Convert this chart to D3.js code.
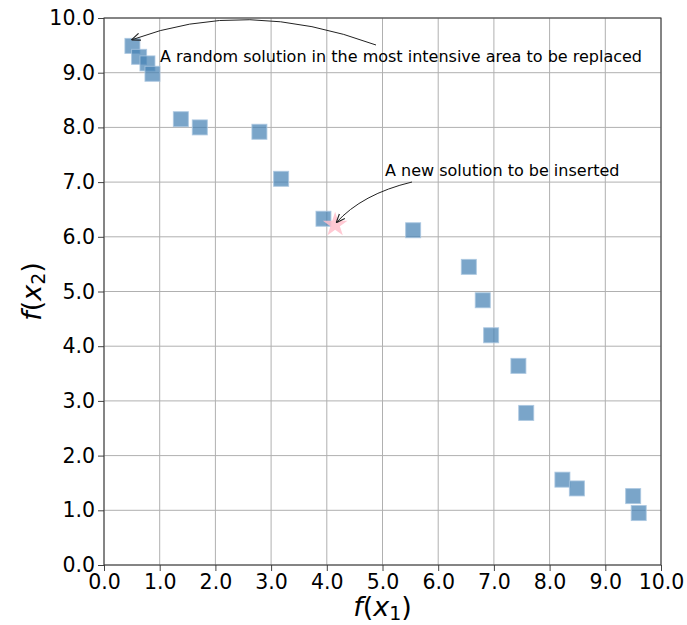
<!DOCTYPE html>
<html><head><meta charset="utf-8">
<script src="https://cdn.jsdelivr.net/npm/d3@7"></script>
<style>body{margin:0;background:#fff}svg{display:block;font-family:"DejaVu Sans",sans-serif}</style>
</head><body>
<svg id="c" width="687" height="625"></svg>
<script>
const xVals = [0.51,0.63,0.78,0.87,1.38,1.72,2.79,3.18,3.94,5.55,6.55,6.80,6.95,7.44,7.58,8.23,8.49,9.50,9.60];
const yVals = [9.49,9.29,9.17,8.98,8.15,8.00,7.92,7.06,6.33,6.12,5.45,4.84,4.20,3.64,2.78,1.56,1.40,1.26,0.95];
const newPoint = [4.15, 6.22];
const tickValues = [0,1,2,3,4,5,6,7,8,9,10];

const svg = d3.select("#c");
const m = {l:104, r:661, t:18, b:565};
const x = d3.scaleLinear().domain([0,10]).range([m.l, m.r]);
const y = d3.scaleLinear().domain([0,10]).range([m.b, m.t]);

// grid
svg.append("g").selectAll("line").data(tickValues).join("line")
  .attr("x1", d=>x(d)).attr("x2", d=>x(d)).attr("y1", m.t).attr("y2", m.b)
  .attr("stroke","#b0b0b0").attr("stroke-width",1);
svg.append("g").selectAll("line").data(tickValues).join("line")
  .attr("y1", d=>y(d)).attr("y2", d=>y(d)).attr("x1", m.l).attr("x2", m.r)
  .attr("stroke","#b0b0b0").attr("stroke-width",1);

// axes
const xa = svg.append("g").attr("transform",`translate(0,${m.b})`)
  .call(d3.axisBottom(x).tickValues(tickValues).tickFormat(d3.format(".1f")).tickSize(6).tickPadding(3));
const ya = svg.append("g").attr("transform",`translate(${m.l},0)`)
  .call(d3.axisLeft(y).tickValues(tickValues).tickFormat(d3.format(".1f")).tickSize(6).tickPadding(3));
[xa,ya].forEach(a=>{
  a.select(".domain").remove();
  a.selectAll("text").attr("font-size",20.5).attr("fill","#000").attr("font-family","DejaVu Sans");
  a.selectAll("line").attr("stroke","#444");
});

// frame
svg.append("rect").attr("x",m.l).attr("y",m.t).attr("width",m.r-m.l).attr("height",m.b-m.t)
  .attr("fill","none").attr("stroke","#333").attr("stroke-width",1);

// points
const s = 15;
svg.append("g").selectAll("rect").data(xVals.map((v,i)=>[v,yVals[i]])).join("rect")
  .attr("x", d=>x(d[0])-s/2).attr("y", d=>y(d[1])-s/2).attr("width",s).attr("height",s)
  .attr("fill","#4682b4").attr("fill-opacity",0.72)
  .attr("stroke","#a9c6e0").attr("stroke-width",1).attr("stroke-opacity",0.8);

// star
svg.append("path").attr("d", d3.symbol().type(d3.symbolStar).size(190)())
  .attr("transform",`translate(${x(newPoint[0])},${y(newPoint[1])})`)
  .attr("fill","pink").attr("fill-opacity",0.85);

// arrows
const defs = svg.append("defs");
defs.append("marker").attr("id","ah").attr("viewBox","0 0 10 10").attr("refX",10).attr("refY",5)
  .attr("markerWidth",9).attr("markerHeight",9).attr("markerUnits","userSpaceOnUse").attr("orient","auto")
  .append("path").attr("d","M0,1 L10,5 L0,9").attr("fill","none").attr("stroke","#222").attr("stroke-width",1.3);

const p1 = [376,45], e1 = [x(xVals[0])-1, y(yVals[0])-6];
svg.append("path").attr("d",`M${p1[0]},${p1[1]} Q246,-3 ${e1[0]},${e1[1]}`)
  .attr("fill","none").attr("stroke","#222").attr("stroke-width",1).attr("marker-end","url(#ah)");
const p2 = [412,182], e2 = [x(newPoint[0])+1, y(newPoint[1])-2];
svg.append("path").attr("d",`M${p2[0]},${p2[1]} Q362,194 ${e2[0]},${e2[1]}`)
  .attr("fill","none").attr("stroke","#222").attr("stroke-width",1).attr("marker-end","url(#ah)");

svg.append("text").attr("x",160).attr("y",61.5).attr("font-size",16).attr("fill","#000")
  .text("A random solution in the most intensive area to be replaced");
svg.append("text").attr("x",385).attr("y",176).attr("font-size",16).attr("fill","#000")
  .text("A new solution to be inserted");

// axis labels
const xl = svg.append("text").attr("x",382.5).attr("y",616).attr("text-anchor","middle").attr("font-size",27);
xl.append("tspan").attr("font-style","italic").text("f");
xl.append("tspan").text("(");
xl.append("tspan").attr("font-style","italic").text("x");
xl.append("tspan").attr("font-size",19).attr("dy",4).text("1");
xl.append("tspan").attr("dy",-4).text(")");

const yl = svg.append("text").attr("transform","translate(41,291.5) rotate(-90)").attr("text-anchor","middle").attr("font-size",27);
yl.append("tspan").attr("font-style","italic").text("f");
yl.append("tspan").text("(");
yl.append("tspan").attr("font-style","italic").text("x");
yl.append("tspan").attr("font-size",19).attr("dy",4).text("2");
yl.append("tspan").attr("dy",-4).text(")");
</script>
</body></html>
